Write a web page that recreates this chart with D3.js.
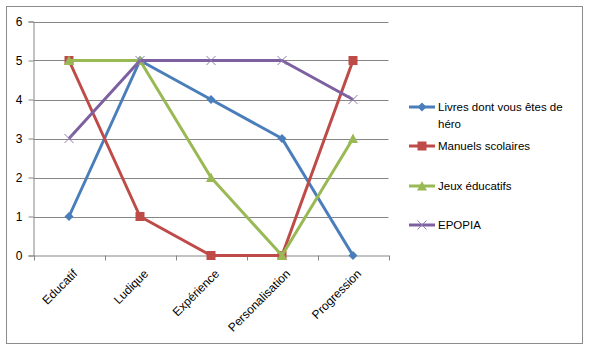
<!DOCTYPE html>
<html>
<head>
<meta charset="utf-8">
<script src="https://cdn.jsdelivr.net/npm/d3@7"></script>
<style>
  body { margin: 0; background: #fff; }
  svg { display: block; font-family: "Liberation Sans", "DejaVu Sans", sans-serif; }
</style>
</head>
<body>
<script>
const categories = ["Educatif", "Ludique", "Expérience", "Personalisation", "Progression"];
const yTicks = [0, 1, 2, 3, 4, 5, 6];
const livres = [1, 5, 4, 3, 0];
const manuels = [5, 1, 0, 0, 5];
const jeux = [5, 5, 2, 0, 3];
const epopia = [3, 5, 5, 5, 4];

const series = [
    { name: "Livres dont vous êtes de|héro", values: livres, color: "#4a7ebb", marker: "diamond" },
    { name: "Manuels scolaires", values: manuels, color: "#be4b48", marker: "square" },
    { name: "Jeux éducatifs", values: jeux, color: "#98b954", marker: "triangle" },
    { name: "EPOPIA", values: epopia, color: "#7d60a0", marker: "x" }
];

const width = 589, height = 351;
const plot = { left: 33.5, right: 388.5, top: 21.5, bottom: 255.5 };

const svg = d3.select("body").append("svg")
    .attr("width", width)
    .attr("height", height);

// Outer chart border
svg.append("rect")
    .attr("x", 6.5).attr("y", 6.5)
    .attr("width", 576).attr("height", 337)
    .attr("fill", "#fff")
    .attr("stroke", "#8c8c8c");

const x = d3.scaleBand()
    .domain(categories)
    .range([plot.left, plot.right]);

const y = d3.scaleLinear()
    .domain([0, 6])
    .range([plot.bottom, plot.top]);

// Gridlines
svg.append("g")
    .selectAll("line")
    .data(yTicks.filter(d => d > 0))
    .join("line")
    .attr("x1", plot.left).attr("x2", plot.right)
    .attr("y1", d => Math.round(y(d)) + 0.5).attr("y2", d => Math.round(y(d)) + 0.5)
    .attr("stroke", "#868686");

// Y axis
svg.append("g")
    .attr("transform", `translate(${plot.left},0)`)
    .call(d3.axisLeft(y).tickValues(yTicks).tickSize(5).tickPadding(6).tickFormat(d3.format("d")))
    .call(g => g.select(".domain").attr("stroke", "#868686"))
    .call(g => g.selectAll("line").attr("stroke", "#868686"))
    .call(g => g.selectAll("text").attr("font-size", 12).attr("fill", "#000"));

// X axis
const xAxis = svg.append("g")
    .attr("transform", `translate(0,${plot.bottom})`)
    .call(d3.axisBottom(x).tickSize(0).tickFormat(d => d))
    .call(g => g.select(".domain").attr("stroke", "#868686"))
    .call(g => g.selectAll(".tick line").remove());

// Tick marks between categories
const bounds = [plot.left].concat(categories.map(c => x(c) + x.bandwidth()));
xAxis.selectAll(".sep")
    .data(bounds)
    .join("line")
    .attr("class", "sep")
    .attr("x1", d => Math.round(d) + 0.5).attr("x2", d => Math.round(d) + 0.5)
    .attr("y1", 0).attr("y2", 5)
    .attr("stroke", "#868686");

xAxis.selectAll(".tick text")
    .attr("font-size", 12)
    .attr("fill", "#000")
    .attr("text-anchor", "end")
    .attr("dy", null)
    .attr("y", 0)
    .attr("transform", "translate(9,19) rotate(-45)");

const cx = i => x(categories[i]) + x.bandwidth() / 2;

const line = d3.line()
    .x((d, i) => cx(i))
    .y(d => y(d));

function drawMarker(g, type, color) {
    if (type === "diamond") {
        g.append("path").attr("d", "M0,-4.5L4.5,0L0,4.5L-4.5,0Z").attr("fill", color);
    } else if (type === "square") {
        g.append("rect").attr("x", -4.5).attr("y", -4.5).attr("width", 9).attr("height", 9).attr("fill", color);
    } else if (type === "triangle") {
        g.append("path").attr("d", "M0,-5L5,4.5L-5,4.5Z").attr("fill", color);
    } else {
        g.append("path").attr("d", "M-4.5,-4.5L4.5,4.5M-4.5,4.5L4.5,-4.5")
            .attr("stroke", color).attr("stroke-width", 1).attr("fill", "none");
    }
}

series.forEach(s => {
    const g = svg.append("g");
    g.append("path")
        .datum(s.values)
        .attr("d", line)
        .attr("fill", "none")
        .attr("stroke", s.color)
        .attr("stroke-width", 3)
        .attr("stroke-linejoin", "round");
    s.values.forEach((v, i) => {
        const m = g.append("g").attr("transform", `translate(${cx(i)},${y(v)})`);
        drawMarker(m, s.marker, s.marker === "x" ? "#8f7ab0" : s.color);
    });
});

// Legend
const legendY = [107, 146, 186, 225];
const legend = svg.append("g");
series.forEach((s, i) => {
    const g = legend.append("g").attr("transform", `translate(409,${legendY[i]})`);
    g.append("line").attr("x1", 0).attr("x2", 26).attr("y1", 0).attr("y2", 0)
        .attr("stroke", s.color).attr("stroke-width", 3);
    const m = g.append("g").attr("transform", "translate(13,0)");
    drawMarker(m, s.marker, s.marker === "x" ? "#8f7ab0" : s.color);
    const lines = s.name.split("|");
    const t = g.append("text")
        .attr("x", 29).attr("y", 4)
        .attr("font-size", 11.5).attr("fill", "#000");
    lines.forEach((l, k) => {
        t.append("tspan").attr("x", 29).attr("dy", k === 0 ? 0 : 17).text(l);
    });
});
</script>
</body>
</html>
